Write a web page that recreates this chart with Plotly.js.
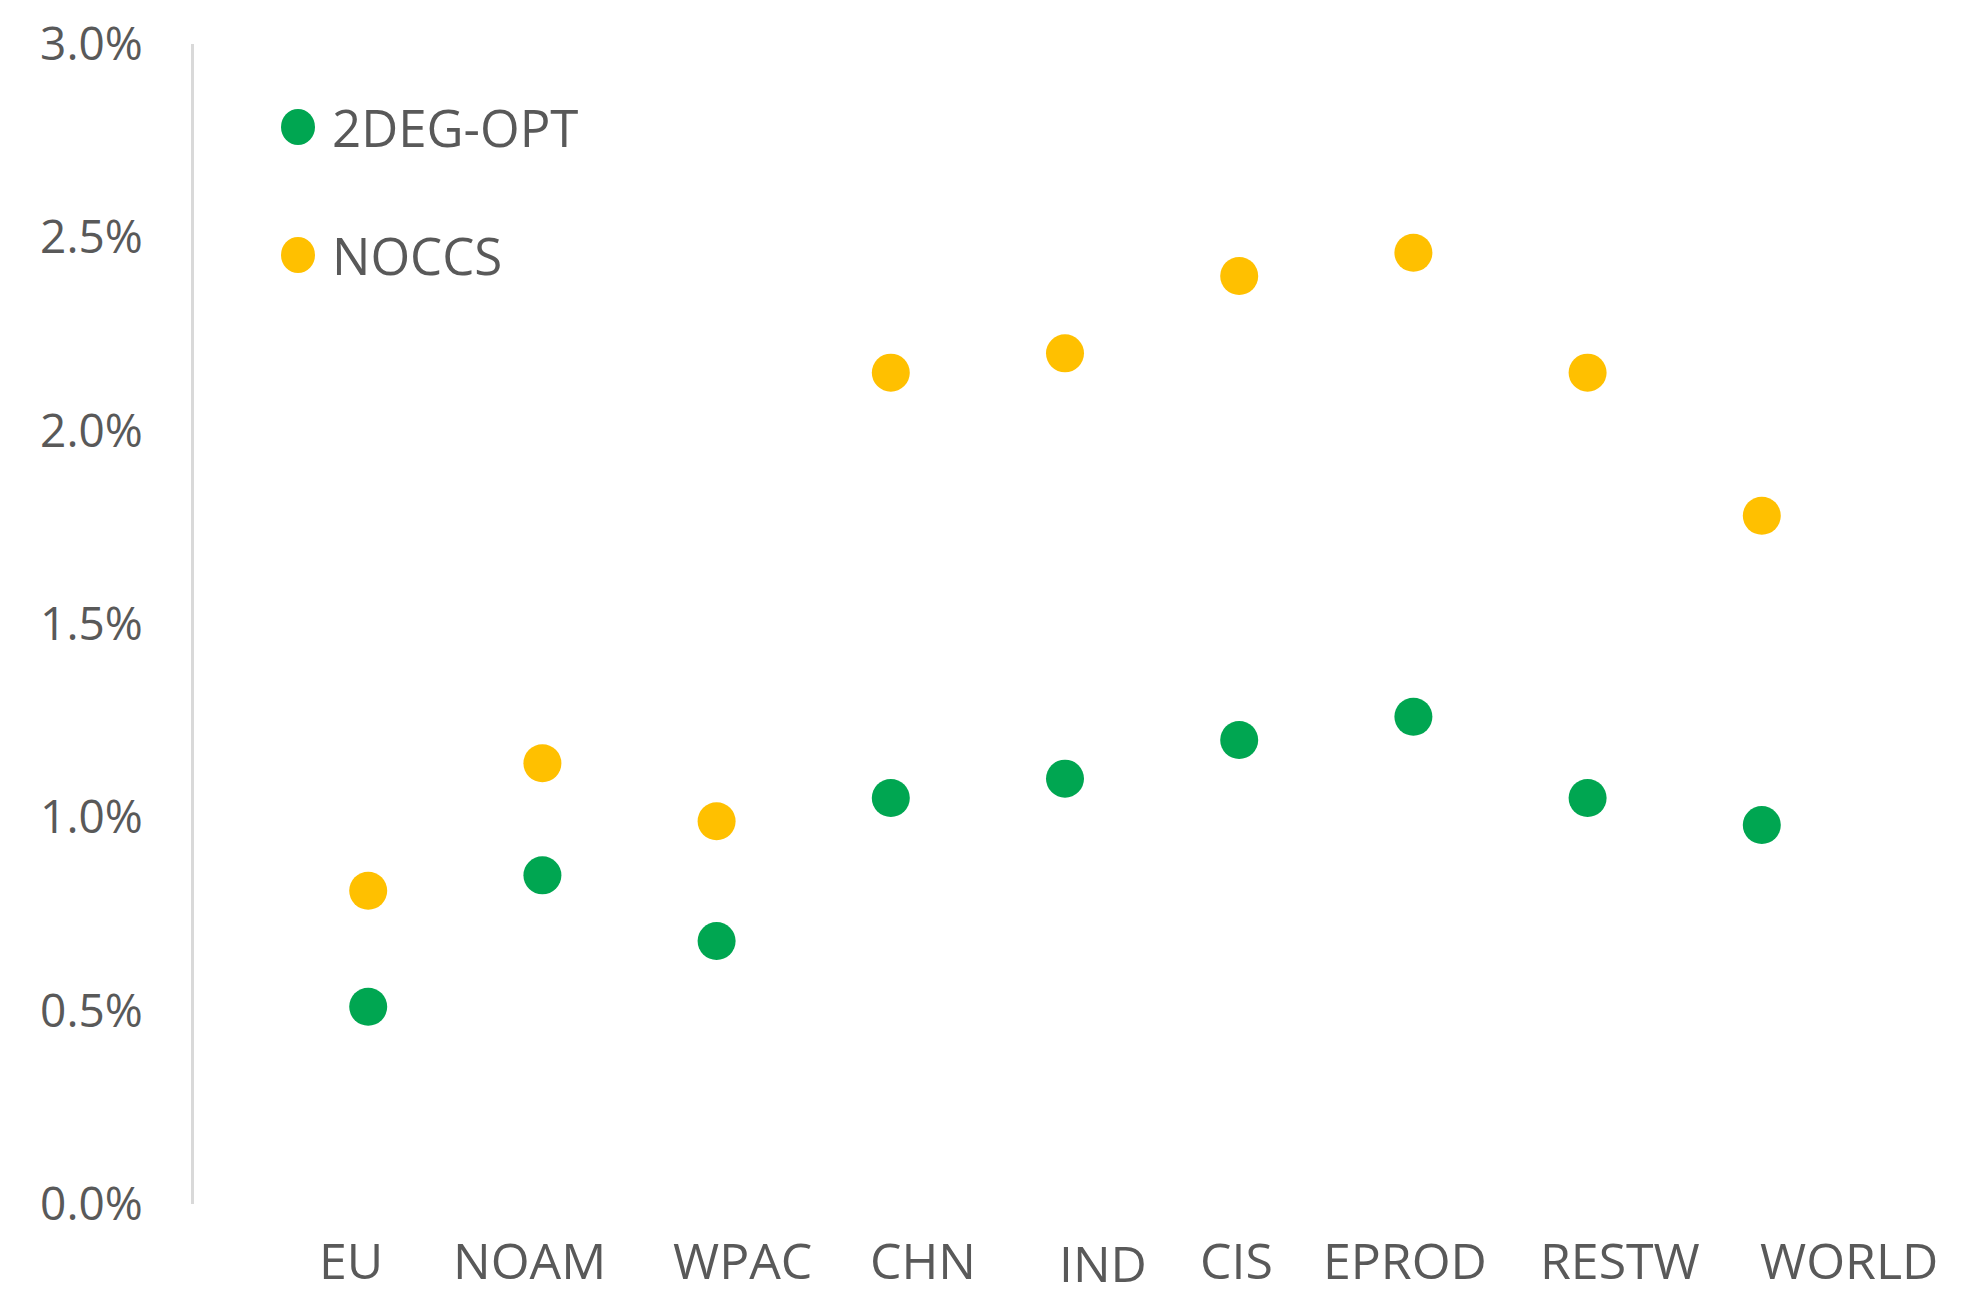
<!DOCTYPE html>
<html>
<head>
<meta charset="utf-8">
<script src="https://cdn.plot.ly/plotly-3.0.1.min.js"></script>
<style>html,body{margin:0;padding:0;background:#fff;}#chart{width:1972px;height:1312px;}</style>
</head>
<body>
<div id="chart"></div>
<script>
// ---- data ----
const regions = ["EU", "NOAM", "WPAC", "CHN", "IND", "CIS", "EPROD", "RESTW", "WORLD"];
const twoDegOpt = [0.0051, 0.0085, 0.0068, 0.0105, 0.0110, 0.0120, 0.0126, 0.0105, 0.0098];
const noCcs = [0.0081, 0.0114, 0.0099, 0.0215, 0.0220, 0.0240, 0.0246, 0.0215, 0.0178];
const seriesNames = ["2DEG-OPT", "NOCCS"];

// ---- style / layout constants ----
const colors = ["#00A651", "#FFC000"];
const textColor = "#595959";
const fontFam = "'Open Sans', 'Noto Sans', sans-serif";
const labelShift = [-17, -13, 26, 32, 38, -3, -8, 32, 87];
const labelYShift = [0, 0, 0, 0, -3, 0, 0, 0, 0];

const xIdx = regions.map((_, i) => i);

const traces = [twoDegOpt, noCcs].map((vals, k) => ({
  type: "scatter",
  mode: "markers",
  name: seriesNames[k],
  x: xIdx,
  y: vals,
  marker: {size: 38, color: colors[k]},
  showlegend: false,
  hovertemplate: "%{text}: %{y:.2%}<extra>" + seriesNames[k] + "</extra>",
  text: regions
}));

// x labels as annotations under each category
const annotations = regions.map((r, i) => ({
  x: i, y: 0, xref: "x", yref: "paper",
  yanchor: "middle", xanchor: "center",
  yshift: -56 + labelYShift[i], xshift: labelShift[i],
  text: r, showarrow: false,
  font: {family: fontFam, size: 50, color: textColor}
}));

// manual legend
const legendY = [127, 255];
const shapes = [];
seriesNames.forEach((n, k) => {
  const yp = 1 - (legendY[k] - 44) / 1160;
  shapes.push({
    type: "circle", xref: "paper", yref: "paper",
    xsizemode: "pixel", ysizemode: "pixel",
    xanchor: (298 - 194) / 1742, yanchor: yp,
    x0: -17, x1: 17, y0: -18, y1: 18,
    fillcolor: colors[k], line: {width: 0}
  });
  annotations.push({
    x: (330 - 194) / 1742, y: yp, xref: "paper", yref: "paper",
    xanchor: "left", yanchor: "middle", showarrow: false,
    text: n, font: {family: fontFam, size: 51, color: textColor}
  });
});

const layout = {
  width: 1972, height: 1312,
  margin: {l: 194, r: 36, t: 44, b: 108},
  paper_bgcolor: "#ffffff", plot_bgcolor: "#ffffff",
  font: {family: fontFam, color: textColor},
  showlegend: false,
  xaxis: {
    range: [-1, 9], showticklabels: false, showgrid: false, zeroline: false,
    showline: false, ticks: ""
  },
  yaxis: {
    range: [0, 0.03], dtick: 0.005, tick0: 0, tickformat: ".1%",
    showgrid: false, zeroline: false,
    showline: true, linecolor: "#D9D9D9", linewidth: 3,
    ticks: "", ticklabelstandoff: 39,
    tickfont: {family: fontFam, size: 46, color: textColor}
  },
  shapes: shapes,
  annotations: annotations
};

Plotly.newPlot("chart", traces, layout, {displayModeBar: false, staticPlot: true});
</script>
</body>
</html>
